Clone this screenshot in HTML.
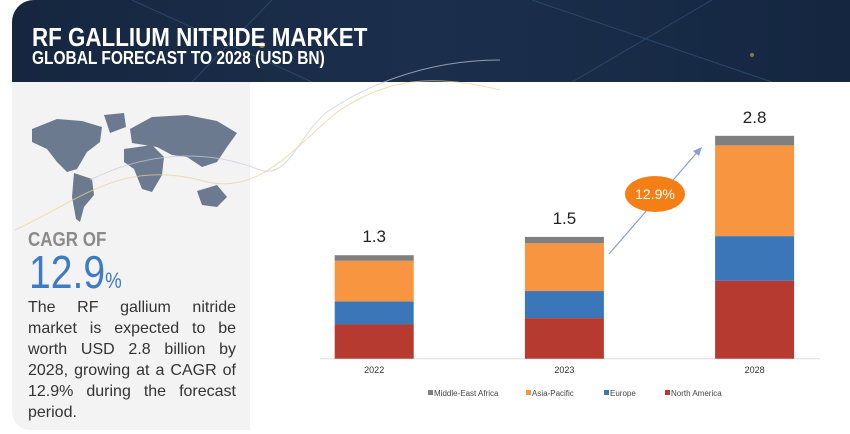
<!DOCTYPE html>
<html><head><meta charset="utf-8"><style>
body{margin:0;width:850px;height:434px;overflow:hidden;background:#fff;font-family:"Liberation Sans",sans-serif;position:relative}
.hdr{position:absolute;left:12px;top:0;width:838px;height:82px;background:linear-gradient(90deg,#16263f,#1b2f4d 50%,#142640);border-top-left-radius:22px;overflow:hidden}
.t1{position:absolute;left:20px;top:22px;color:#fff;font-weight:bold;font-size:26px;transform:scaleX(.86);transform-origin:left;white-space:nowrap}
.t2{position:absolute;left:20px;top:48px;color:#fff;font-weight:bold;font-size:18px;transform:scaleX(.86);transform-origin:left;white-space:nowrap}
.lp{position:absolute;left:12px;top:82px;width:238px;height:348px;background:#f3f3f4;border-bottom-left-radius:18px}
.cagr{position:absolute;left:28px;top:229px;font-size:20px;color:#8a8a8a;font-weight:bold;transform:scaleX(.85);transform-origin:left}
.big{position:absolute;left:29px;top:245px;font-size:46px;color:#3f7bc4;transform:scaleX(.85);transform-origin:left;white-space:nowrap}
.big span{font-size:22px}
.para{position:absolute;left:28px;top:297px;width:208px;font-size:16px;line-height:21px;color:#333;text-align:justify;text-align-last:left}
</style></head><body>
<div class="hdr">
<svg width="838" height="82" style="position:absolute;left:0;top:0">
<path d="M120 0 L300 82 M260 0 L180 82 M520 0 L760 82 M700 0 L560 82" stroke="#3a5a80" stroke-width="1" opacity=".6"/>
<circle cx="250" cy="45" r="3" fill="#d8b040" opacity=".6"/><circle cx="740" cy="55" r="2" fill="#d8b040" opacity=".6"/>
</svg>
<div class="t1">RF GALLIUM NITRIDE MARKET</div>
<div class="t2">GLOBAL FORECAST TO 2028 (USD BN)</div>
</div>
<div class="lp">
<svg width="238" height="140" style="position:absolute;left:0;top:25px">
<path d="M20 22 L45 12 L70 14 L90 20 L88 35 L75 45 L65 62 L55 65 L45 55 L35 42 L20 35Z" fill="#6b7a8f"/>
<path d="M92 8 L112 6 L114 20 L98 26Z" fill="#6b7a8f"/>
<path d="M62 66 L80 72 L82 88 L72 100 L68 115 L64 112 L60 90Z" fill="#6b7a8f"/>
<path d="M112 42 L140 38 L152 50 L150 68 L140 85 L130 82 L122 62 L112 55Z" fill="#6b7a8f"/>
<path d="M118 22 L140 10 L175 8 L205 14 L225 26 L215 40 L205 55 L190 60 L175 50 L160 48 L145 40 L120 36Z" fill="#6b7a8f"/>
<path d="M185 84 L205 78 L215 90 L205 100 L190 98Z" fill="#6b7a8f"/>
</svg>
</div>
<svg width="850" height="434" style="position:absolute;left:0;top:0">
<path d="M15 230 C80 200 120 160 200 180 C260 200 300 140 340 110 C380 85 420 70 500 90" stroke="#e8d38e" fill="none" opacity=".7"/>
<path d="M90 180 C150 150 210 150 260 170 C290 180 300 130 330 110 C360 90 420 60 500 60" stroke="#c8ccd8" fill="none" opacity=".7"/>
</svg>
<div class="cagr">CAGR OF</div>
<div class="big">12.9<span>%</span></div>
<div class="para">The RF gallium nitride market is expected to be worth USD 2.8 billion by 2028, growing at a CAGR of 12.9% during the forecast period.</div>
<svg id="chart" width="850" height="434" style="position:absolute;left:0;top:0"></svg>
<script>
const categories=["2022","2023","2028"];
const northAmerica=[0.43,0.51,0.98];
const europe=[0.29,0.34,0.56];
const asiaPacific=[0.51,0.60,1.14];
const middleEastAfrica=[0.07,0.08,0.12];
const totals=["1.3","1.5","2.8"];
const seriesNames=["Middle-East Africa","Asia-Pacific","Europe","North America"];
const NS="http://www.w3.org/2000/svg";
const svg=document.getElementById('chart');


const base=358.7,ppu=79.6,x0=334.7,step=190.2,bw=79;
const y=v=>base-v*ppu;
const xb=i=>x0+i*step;
function mk(t,a){const e=document.createElementNS(NS,t);for(const k in a)e.setAttribute(k,a[k]);svg.appendChild(e);return e;}
const ax=mk('line',{x1:320,x2:820,y1:base,y2:base,stroke:'#ddd'});


const series=[[northAmerica,'#b73a31','north-america'],[europe,'#3a76b8','europe'],[asiaPacific,'#f79540','asia-pacific'],[middleEastAfrica,'#7f7f7f','middle-east-africa']];
categories.forEach((c,i)=>{
 let cum=0;
 series.forEach(([arr,col,nm])=>{
  const r=mk('rect',{x:xb(i),y:y(cum+arr[i]),width:bw,height:arr[i]*ppu,fill:col});
  
  
  cum+=arr[i];
 });
 const tv=mk('text',{x:xb(i)+bw/2,y:y(cum)-13,'text-anchor':'middle','font-size':17,fill:'#222','font-family':'Liberation Sans'});
 tv.textContent=totals[i];
 
 
 const tl=mk('text',{x:xb(i)+bw/2,y:373,'text-anchor':'middle','font-size':9,fill:'#333','font-family':'Liberation Sans'});
 tl.textContent=c;
 
 
});
const ar=mk('line',{x1:609,y1:254,x2:700,y2:149,stroke:'#8aa0c8','stroke-width':1.2});


const ah=mk('path',{d:'M702 147 L693 151 L699 156Z',fill:'#8aa0c8'});


const el=mk('ellipse',{cx:655,cy:194,rx:30,ry:18,fill:'#f57f17'});


const et=mk('text',{x:655,y:199,'text-anchor':'middle','font-size':14,fill:'#fff','font-family':'Liberation Sans'});
et.textContent='12.9%';


const lx=[428,526,604,665],lc=['#7f7f7f','#f79540','#3a76b8','#b73a31'];
seriesNames.forEach((n,i)=>{
 const r=mk('rect',{x:lx[i],y:390,width:5,height:5,fill:lc[i]});
 
 
 const t=mk('text',{x:lx[i]+6,y:396,'font-size':8,fill:'#444','font-family':'Liberation Sans'});
 t.textContent=n;
 
 
});
</script>
</body></html>
